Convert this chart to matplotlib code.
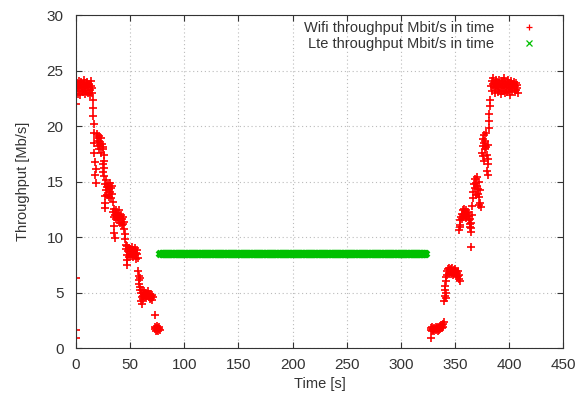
import numpy as np
import matplotlib.pyplot as plt

plt.rcParams['font.family'] = ['Liberation Sans', 'DejaVu Sans']

# wifi throughput while walking away (left part)
wifi_time_drop = [0, 0, 0, 0,
    0.5, 1, 1.5, 2, 2.5, 3, 3.5, 4, 4.5, 5, 5.5, 6, 6.5, 7, 7.5, 8,
    8.5, 9, 9.5, 10, 10.5, 11, 11.5, 12, 12.5, 13, 13.5, 14, 14.5, 15,
    15.5, 16, 16, 16.5, 16.5, 17, 17, 17.5, 18, 17.5, 18,
    19, 19.5, 20, 20.5, 21, 21.5, 22, 22.5, 23, 23.5, 24, 24.5, 25, 25.5, 26,
    25.5, 26, 24.5, 25,
    27, 27.5, 28, 28.5, 29, 29.5, 30, 30.5, 31, 31.5, 32, 32.5, 33, 33.5, 34,
    26.5, 27, 27,
    34.5, 35, 35.5, 36, 36.5, 37, 37.5, 38, 38.5, 39, 39.5, 40, 40.5, 41,
    41.5, 42, 42.5, 43, 43.5, 44, 44.5,
    35, 35.5, 36, 45, 45.5, 46,
    46.5, 47, 47.5, 48, 48.5, 49, 49.5, 50, 50.5, 51, 51.5, 52, 52.5, 53,
    53.5, 54, 54.5, 55, 55.5, 56, 56.5, 57,
    47, 47.5,
    57.5, 58, 58, 58.5, 59, 59, 59.5,
    60, 60.5, 61, 61.5, 62, 62.5, 63, 63.5, 64, 64.5, 65, 65.5, 66, 66.5,
    67, 67.5, 68, 68.5, 69, 69.5, 70, 70.5, 71,
    60, 61,
    72.5,
    72.5, 73, 73.5, 74, 74.5, 75, 75.5, 76, 76.5, 77, 77.5]
wifi_tput_drop = [6.3, 1.6, 0.9, 22.0,
    23.4, 23.9, 22.9, 23.6, 24.1, 23.2, 23.7, 22.8, 23.5, 24.0, 23.3, 23.8,
    23.1, 23.6, 24.2, 22.9, 23.4, 23.9, 23.2, 23.7, 24.0, 23.0, 23.5, 23.8,
    23.3, 22.8, 23.6, 24.1, 23.4, 23.0,
    22.4, 21.6, 20.9, 20.2, 19.4, 18.5, 17.6, 16.8, 16.1, 15.6, 14.9,
    18.9, 19.3, 18.2, 18.7, 19.1, 17.9, 18.6, 18.3, 18.9, 17.6, 18.4, 17.9,
    18.1, 17.4, 16.9,
    16.2, 15.5, 16.6, 15.9,
    14.8, 14.2, 15.1, 14.5, 13.8, 14.7, 14.3, 13.6, 14.9, 14.1, 13.5, 14.4,
    13.9, 14.6, 13.2,
    13.7, 13.1, 12.6,
    12.3, 11.8, 12.5, 12.0, 11.6, 12.4, 11.9, 12.2, 11.5, 12.1, 11.7, 12.4,
    11.9, 11.3, 12.0, 11.6, 11.1, 11.8, 11.2, 10.7, 11.4,
    11.0, 10.4, 9.9, 10.3, 9.8, 9.3,
    8.9, 8.4, 9.2, 8.7, 8.2, 9.0, 8.6, 8.9, 8.3, 8.8, 9.1, 8.5, 8.8, 8.2,
    8.7, 9.0, 8.4, 8.6, 8.0, 8.5, 8.8, 8.1,
    7.9, 7.5,
    6.9, 6.5, 6.1, 5.8, 5.5, 6.3, 5.2,
    5.0, 4.6, 5.2, 4.7, 4.4, 4.9, 5.1, 4.6, 4.8, 5.0, 4.5, 4.9, 4.7, 5.1,
    4.6, 4.8, 4.4, 4.9, 4.7, 4.5, 4.8, 4.3, 4.6,
    4.2, 4.0,
    3.0,
    1.7, 1.9, 1.5, 1.8, 2.0, 1.6, 1.8, 1.5, 1.7, 1.9, 1.6]

# wifi throughput while walking back (right part)
wifi_time_rise = [328,
    327.5, 328, 328.5, 329, 329.5, 330, 330.5, 331, 331.5, 332, 332.5, 333,
    333.5, 334, 334.5, 335, 335.5, 336, 336.5, 337, 337.5, 338, 338.5, 339,
    339.5,
    340, 340.5, 341, 341, 341.5, 342, 342, 341.5,
    342.5, 343, 343.5, 344, 344.5, 345, 345.5, 346, 346.5, 347, 347.5, 348,
    348.5, 349, 349.5, 350, 350.5, 351, 351.5, 352, 352.5, 353, 353.5, 354,
    354.5,
    354, 354.5, 355, 355, 355.5, 356, 356.5, 357, 357.5, 358, 358.5, 359,
    359.5, 360, 360.5, 361, 361.5, 362, 362.5, 363, 363.5, 364, 364, 364.5,
    365, 365, 365.5,
    364.5,
    366, 366.5, 367, 367.5, 368, 368.5, 369, 369.5, 370, 370.5, 371, 371.5,
    372, 372.5, 373, 373.5, 374, 372,
    375, 375.5, 376, 376.5, 377, 377.5, 378, 378.5, 379, 379.5, 380, 376, 377,
    379.5, 380, 380, 381, 381, 381.5, 382, 382, 380.5,
    383.5, 384, 384.5, 385, 385.5, 386, 386.5, 387, 387.5, 388, 388.5, 389,
    389.5, 390, 390.5, 391, 391.5, 392, 392.5, 393, 393.5, 394, 394.5, 395,
    395.5, 396, 396.5, 397, 397.5, 398, 398.5, 399, 399.5, 400, 400.5, 401,
    401.5, 402, 402.5, 403, 403.5, 404, 404.5, 405, 405.5, 406, 406.5, 407,
    407.5, 408]
wifi_tput_rise = [0.9,
    1.6, 1.8, 1.5, 1.9, 1.7, 1.6, 1.8, 1.5, 1.7, 1.9, 1.6, 1.8, 1.7, 1.5,
    1.9, 1.6, 1.8, 2.0, 1.7, 1.9, 2.1, 1.8, 2.2, 1.9, 2.3,
    4.2, 4.7, 5.2, 5.6, 6.0, 6.4, 5.0, 4.5,
    6.6, 6.9, 7.1, 6.8, 7.2, 6.9, 7.0, 6.7, 7.1, 6.8, 7.2, 6.9, 6.6, 7.0,
    6.8, 7.1, 6.7, 6.9, 6.4, 6.8, 6.5, 6.9, 6.2, 6.6, 6.0,
    10.6, 11.1, 11.5, 10.9, 11.8, 12.1, 11.6, 12.4, 12.0, 12.5, 11.8, 12.3,
    12.0, 12.4, 11.7, 12.2, 11.9, 12.3, 11.5, 11.9, 11.2, 11.6, 10.9, 10.5,
    11.3, 10.8, 12.0,
    9.1,
    12.8, 13.5, 14.1, 14.8, 15.2, 14.4, 13.8, 14.9, 15.4, 14.6, 13.9, 14.3,
    15.0, 13.6, 14.2, 13.1, 12.7, 12.9,
    17.6, 18.2, 18.8, 19.2, 18.5, 17.9, 18.7, 19.4, 18.1, 17.4, 18.3, 17.3,
    16.9,
    16.0, 16.6, 15.6, 19.8, 20.5, 21.1, 21.8, 22.4, 17.0,
    23.6, 24.1, 23.2, 23.8, 24.3, 23.5, 23.0, 23.9, 24.2, 23.4, 23.7, 24.0,
    23.1, 23.6, 24.2, 23.3, 23.8, 22.9, 23.5, 24.1, 23.7, 23.2, 23.9, 24.3,
    23.4, 23.0, 23.8, 24.0, 23.5, 23.1, 23.7, 24.2, 23.3, 23.9, 23.6, 22.8,
    23.4, 24.1, 23.7, 23.2, 23.8, 24.0, 23.5, 23.1, 23.6, 23.9, 23.3, 23.7,
    23.4, 23.0]

# lte throughput, one sample per second, flat
lte_start, lte_end = 78, 323
lte_level = 8.5
lte_time = list(range(lte_start, lte_end + 1))
lte_tput = [lte_level] * len(lte_time)

wifi_time = wifi_time_drop + wifi_time_rise
wifi_tput = wifi_tput_drop + wifi_tput_rise

txt = '#333333'

fig = plt.figure(figsize=(5.76, 4), dpi=100)
ax = fig.add_axes([0.132, 0.13, 0.846, 0.832])

ax.plot(wifi_time, wifi_tput, linestyle='none', marker='+', color='#ff0000',
        markersize=6, markeredgewidth=1.2, label='Wifi throughput Mbit/s in time')
ax.plot(lte_time, lte_tput, linestyle='none', marker='x', color='#00c000',
        markersize=4.5, markeredgewidth=2.8, label='Lte throughput Mbit/s in time')

ax.set_xlim(0, 450)
ax.set_ylim(0, 30)
ax.set_xticks(range(0, 451, 50))
ax.set_yticks(range(0, 31, 5))
ax.grid(True, linestyle=(0, (1, 2.5)), color='#bbbbbb', linewidth=0.8)
ax.tick_params(direction='in', top=True, right=True, labelsize=11,
               colors='#333333', labelcolor=txt, length=4)
ax.tick_params(axis='y', pad=9)
ax.tick_params(axis='x', pad=7)
for s in ax.spines.values():
    s.set_color('#333333')

ax.set_xlabel('Time [s]', fontsize=10.5, color=txt, labelpad=4)
ax.set_ylabel('Throughput [Mb/s]', fontsize=10.5, color=txt, labelpad=12)

leg = ax.legend(loc='upper right', bbox_to_anchor=(0.965, 1.01), frameon=False,
                markerfirst=False, fontsize=10.5, handletextpad=1.8,
                labelspacing=0.15, borderaxespad=0.2, handlelength=1.2)
for t in leg.get_texts():
    t.set_color(txt)
# thin markers in the key, like the original
leg.legend_handles[0].set_markeredgewidth(0.9)
leg.legend_handles[0].set_markersize(5)
leg.legend_handles[1].set_markeredgewidth(0.9)
leg.legend_handles[1].set_markersize(4)

fig.savefig('out.png', dpi=100)
